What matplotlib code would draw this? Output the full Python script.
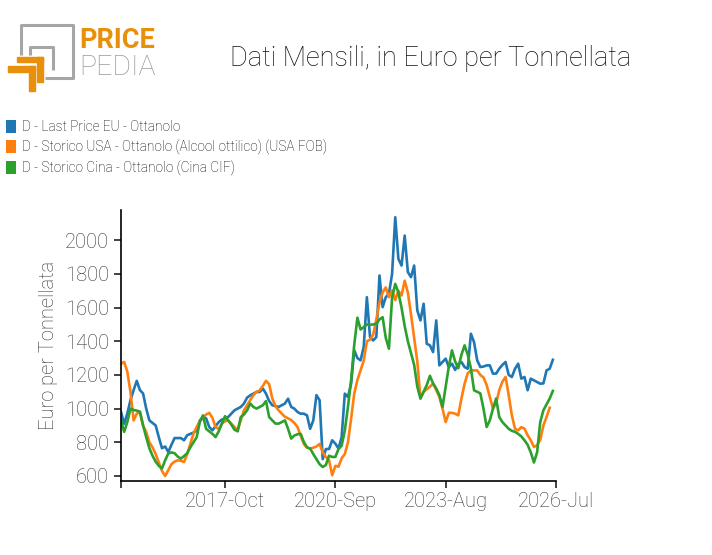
import numpy as np
import matplotlib
matplotlib.use("Agg")
import matplotlib.pyplot as plt
from matplotlib.patches import Patch, Rectangle

# monthly series, first value = 2015-Jan
start_year = 2015

last_price_eu = [
    980, 910, 970, 1050, 1110, 1165, 1110, 1090, 1000, 930,
    915, 900, 830, 765, 775, 742, 785, 825, 825, 825,
    812, 842, 850, 858, 870, 930, 950, 942, 891, 871,
    895, 920, 935, 941, 950, 970, 990, 1000, 1010, 1030,
    1065, 1079, 1089, 1099, 1099, 1119, 1089, 1045, 1020, 1015,
    1010, 1020, 1030, 1059, 1010, 1000, 980, 970, 970, 960,
    880, 930, 1080, 1050, 700, 760, 760, 812, 792, 763,
    831, 1089, 1069, 1148, 1346, 1300, 1287, 1366, 1662, 1425,
    1405, 1425, 1791, 1603, 1662, 1682, 1801, 2137, 1890, 1850,
    2028, 1811, 1781, 1850, 1583, 1524, 1623, 1385, 1376, 1336,
    1524, 1257, 1277, 1297, 1247, 1267, 1230, 1265, 1277, 1247,
    1237, 1445, 1395, 1287, 1247, 1250, 1257, 1257, 1208, 1208,
    1237, 1260, 1277, 1200, 1188, 1237, 1267, 1178, 1188, 1109,
    1178, 1168, 1158, 1148, 1150, 1227, 1237, 1290,
]

storico_usa = [
    1267, 1277, 1220, 1100, 930, 970, 980, 900, 860, 800,
    770, 730, 680, 630, 600, 634, 670, 685, 693, 690,
    683, 730, 790, 852, 890, 925, 945, 965, 975, 945,
    890, 880, 911, 925, 930, 911, 890, 871, 930, 990,
    1020, 1049, 1080, 1099, 1109, 1135, 1165, 1145, 1060, 1015,
    990, 970, 952, 942, 932, 915, 890, 840, 790, 768,
    763, 768, 775, 790, 740, 713, 693, 604, 660, 655,
    705, 730, 800, 940, 1090, 1170, 1227, 1285, 1400, 1410,
    1440, 1530, 1630, 1690, 1720, 1662, 1702, 1645, 1700, 1672,
    1760, 1690, 1560, 1420, 1280, 1060, 1100, 1115, 1130, 1148,
    1110, 1070, 1000, 920, 975, 975, 970, 960, 1060, 1148,
    1210, 1227, 1227, 1227, 1200, 1185, 1140, 1070, 1000, 1030,
    1110, 1160, 1188, 1080, 960, 880, 871, 890, 881, 842,
    812, 772, 782, 815, 900, 950, 1005,
]

storico_cina = [
    930, 862, 920, 1000, 992, 988, 982, 900, 830, 765,
    720, 685, 660, 644, 693, 733, 740, 735, 715, 703,
    718, 735, 770, 800, 830, 920, 960, 880, 865, 850,
    831, 865, 910, 955, 930, 905, 875, 865, 950, 965,
    990, 1030, 1010, 1000, 1010, 1020, 1045, 950, 930, 911,
    911, 920, 930, 880, 822, 840, 848, 850, 802, 770,
    763, 730, 700, 670, 653, 665, 720, 713, 713, 760,
    780, 870, 1010, 1170, 1380, 1540, 1470, 1484, 1500, 1498,
    1500, 1504, 1530, 1543, 1420, 1356, 1660, 1741, 1690, 1600,
    1490, 1400, 1330, 1260, 1130, 1060, 1100, 1140, 1195, 1150,
    1120, 1080, 1010, 1128, 1250, 1346, 1280, 1240, 1320, 1376,
    1320, 1240, 1109, 1100, 1090, 1000, 891, 930, 1000, 1060,
    950, 920, 900, 880, 868, 862, 850, 835, 812, 785,
    740, 680, 740, 920, 990, 1025, 1060, 1105,
]

series_names = [
    "D - Last Price EU - Ottanolo",
    "D - Storico USA - Ottanolo (Alcool ottilico) (USA FOB)",
    "D - Storico Cina - Ottanolo (Cina CIF)",
]
series_colors = ["#1f77b4", "#ff7f0e", "#2ca02c"]

tick_labels = ["2017-Oct", "2020-Sep", "2023-Aug", "2026-Jul"]
month_abbr = ["Jan", "Feb", "Mar", "Apr", "May", "Jun",
              "Jul", "Aug", "Sep", "Oct", "Nov", "Dec"]


def month_index(label):
    y, m = label.split("-")
    return (int(y) - start_year) * 12 + month_abbr.index(m)


plt.rcParams["font.family"] = ["Roboto", "DejaVu Sans"]
plt.rcParams["font.weight"] = "light"
plt.rcParams["axes.labelweight"] = "light"

fig = plt.figure(figsize=(7.12, 5.55), dpi=100)
ax = fig.add_axes([121 / 712, 1 - 481 / 555, 435 / 712, 271 / 555])

for vals, name, col in zip([last_price_eu, storico_usa, storico_cina],
                           series_names, series_colors):
    ax.plot(np.arange(len(vals)), vals, color=col, linewidth=1.9,
            label=name, solid_joinstyle="round")

ax.set_xlim(0, month_index(tick_labels[-1]))
ax.set_ylim(570, 2180)

ax.spines["top"].set_visible(False)
ax.spines["right"].set_visible(False)
ax.spines["left"].set_linewidth(1.2)
ax.spines["bottom"].set_linewidth(1.2)

ax.set_xticks([0] + [month_index(t) for t in tick_labels])
ax.set_xticklabels([""] + tick_labels)
ax.set_yticks(np.arange(600, 2001, 200))
ax.tick_params(axis="both", direction="out", length=5, width=1.2,
               labelsize=14.5, colors="#222222", labelcolor="#333333")
ax.tick_params(axis="x", pad=3)
ax.set_ylabel("Euro per Tonnellata", fontsize=14.5, color="#333333",
              labelpad=5)

# title
fig.text(430.5 / 712, 1 - 58 / 555, "Dati Mensili, in Euro per Tonnellata",
         ha="center", va="center", fontsize=19.5, color="#111111")

# legend
handles = [Patch(facecolor=c, edgecolor="none") for c in series_colors]
fig.legend(handles, series_names, loc="upper left",
           bbox_to_anchor=(3 / 712, 1 - 117 / 555), frameon=False,
           fontsize=9.8, handlelength=0.75, handleheight=1.1,
           handletextpad=0.45, labelspacing=0.42, borderaxespad=0,
           borderpad=0.2)

# logo
orange = "#e8900c"
grey = "#a6a6a6"
lx = fig.add_axes([0, 0, 1, 1], facecolor="none")
lx.set_xlim(0, 712)
lx.set_ylim(555, 0)
lx.axis("off")
lx.plot([21, 21, 73, 73, 45], [55, 25, 25, 78, 78], color=grey, lw=2.2,
        solid_capstyle="butt")
lx.plot([30, 30, 53, 53], [55, 47, 47, 70], color=grey, lw=2.2,
        solid_capstyle="butt")
lx.add_patch(Rectangle((17, 56.5), 26, 5.5, color=orange))
lx.add_patch(Rectangle((37, 56.5), 6, 25, color=orange))
lx.add_patch(Rectangle((8, 65.5), 27, 6, color=orange))
lx.add_patch(Rectangle((28.5, 65.5), 6.5, 25, color=orange))
lx.text(79, 48.5, "PRICE", color=orange, fontsize=19.5, fontweight="bold",
        ha="left", va="baseline")
lx.text(79, 75, "PEDIA", color="#9a9a9a", fontsize=20.5, fontweight="light",
        ha="left", va="baseline")

fig.savefig("out.png", dpi=100)
